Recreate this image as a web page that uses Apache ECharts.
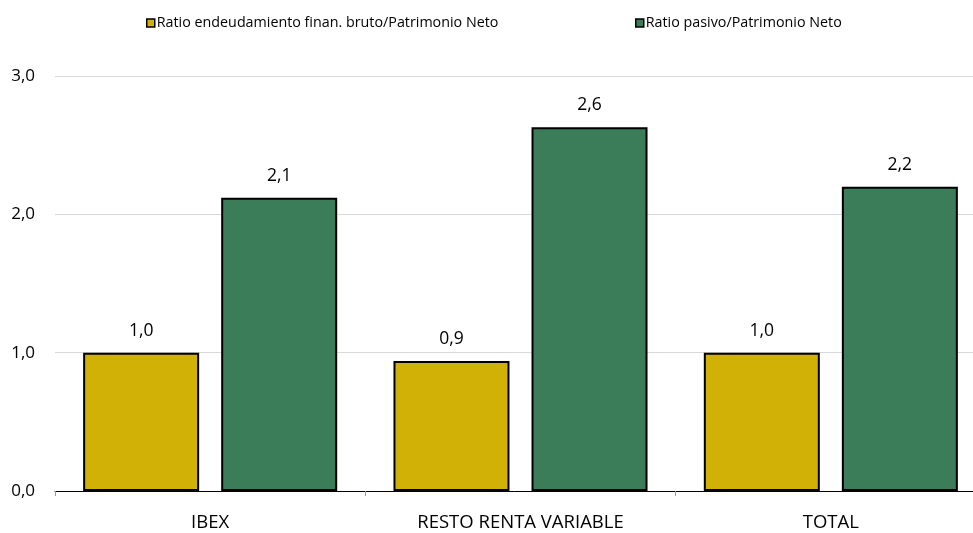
<!DOCTYPE html>
<html>
<head>
<meta charset="utf-8">
<script src="https://cdn.jsdelivr.net/npm/echarts@6/dist/echarts.min.js"></script>
<style>html,body{margin:0;padding:0;background:#fff}#c{width:973px;height:533px}</style>
</head>
<body>
<div id="c"></div>
<script>
var categories = ['IBEX', 'RESTO RENTA VARIABLE', 'TOTAL'];
var seriesNames = ['Ratio endeudamiento finan. bruto/Patrimonio Neto', 'Ratio pasivo/Patrimonio Neto'];
var endeudamiento = [1.0, 0.94, 1.0];
var pasivo = [2.12, 2.63, 2.2];
var yTicks = [0, 1, 2, 3];

var FONT = 'Open Sans';
var chart = echarts.init(document.getElementById('c'));
function fmt(v){ return v.toFixed(1).replace('.', ','); }
var labelCfg = {show:true, position:'top', distance:13, color:'#000', fontSize:17.5, fontFamily:FONT,
  formatter:function(p){return fmt(p.value);}};
var legendCommon = {top:11, itemWidth:8, itemHeight:8, itemGap:4, icon:'rect',
  itemStyle:{borderColor:'#000', borderWidth:1.5},
  textStyle:{fontSize:14.3, fontFamily:FONT, color:'#000', padding:[0,0,0,-3]}};
chart.setOption({
  animation:false,
  legend:[
    Object.assign({data:[seriesNames[0]], left:141}, legendCommon),
    Object.assign({data:[seriesNames[1]], left:630}, legendCommon)
  ],
  grid:{left:55, width:931, top:76, bottom:42, outerBoundsMode:'none', containLabel:false},
  xAxis:{type:'category', data:categories,
    axisLine:{lineStyle:{color:'#000', width:1}},
    axisTick:{show:true, length:5, lineStyle:{color:'#999'}},
    axisLabel:{fontSize:18.5, fontFamily:FONT, color:'#000', margin:22}},
  yAxis:{type:'value', min:0, max:3, interval:1,
    axisLine:{show:false}, axisTick:{show:false},
    splitLine:{lineStyle:{color:'#d9d9d9', width:1}},
    axisLabel:{fontSize:17, fontFamily:FONT, color:'#000', margin:20,
      formatter:function(v){return fmt(v);}}},
  series:[
    {name:seriesNames[0], type:'bar', data:endeudamiento, barWidth:116, barGap:'19%',
     itemStyle:{color:'#d2b106', borderColor:'#000', borderWidth:2}, label:labelCfg},
    {name:seriesNames[1], type:'bar', data:pasivo, barWidth:116, barGap:'19%',
     itemStyle:{color:'#3c7d59', borderColor:'#000', borderWidth:2}, label:labelCfg}
  ]
});
</script>
</body>
</html>
